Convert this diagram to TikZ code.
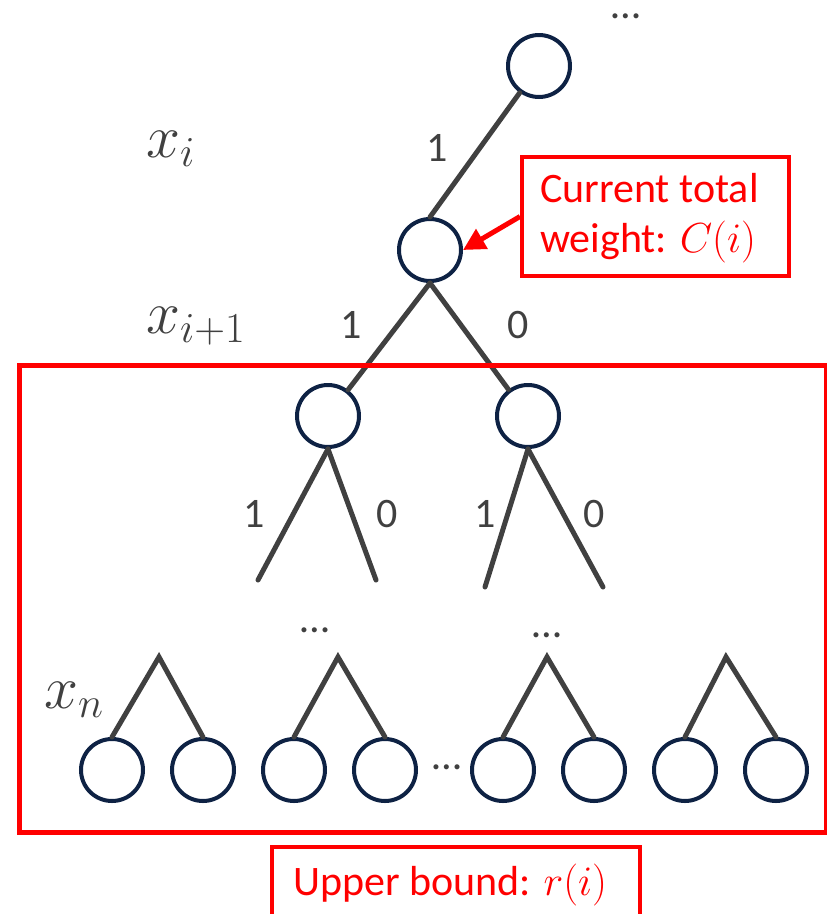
\documentclass[tikz,border=0pt]{standalone}
\usepackage{fix-cm}
\usepackage{fontspec}
\setmainfont{Carlito}
\usetikzlibrary{arrows.meta}
\definecolor{navy}{HTML}{0E2244}
\definecolor{edgegray}{HTML}{404040}
\definecolor{boxred}{HTML}{FF0000}
\begin{document}
\begin{tikzpicture}[x=1pt,y=-1pt,
  vtx/.style={circle,draw=navy,line width=4pt,minimum size=62pt,inner sep=0pt},
  edge/.style={draw=edgegray,line width=5pt,line cap=round},
  lbl/.style={text=edgegray,font=\fontsize{42}{50}\selectfont,inner sep=0pt},
  dots/.style={text=edgegray,font=\fontsize{42}{50}\selectfont,inner sep=0pt,anchor=base},
  redbox/.style={draw=boxred,line width=4pt,rectangle,inner sep=0pt,anchor=north west},
  redtxt/.style={text=boxred,font=\fontsize{42}{50}\selectfont,inner sep=0pt,anchor=base west},
  var/.style={text=edgegray,font=\fontsize{61}{64}\selectfont,inner sep=0pt,anchor=base west}]
\useasboundingbox (0,0) rectangle (827,914);
\clip (0,0) rectangle (827,914);

% vertices
\node[vtx] (r) at (539,66) {};
\node[vtx] (a) at (430,250) {};
\node[vtx] (b1) at (328,416) {};
\node[vtx] (b2) at (528,416) {};
\node[vtx] (l1) at (112,770) {};
\node[vtx] (l2) at (203,770) {};
\node[vtx] (l3) at (294,770) {};
\node[vtx] (l4) at (385,770) {};
\node[vtx] (l5) at (503,770) {};
\node[vtx] (l6) at (594,770) {};
\node[vtx] (l7) at (685,770) {};
\node[vtx] (l8) at (776,770) {};

% free ends and apexes
\coordinate (e1) at (258,580);
\coordinate (e2) at (376,580);
\coordinate (e3) at (485,587);
\coordinate (e4) at (603,587);
\coordinate (p1) at (159,657);
\coordinate (p2) at (338,657);
\coordinate (p3) at (547,657);
\coordinate (p4) at (726,657);

% edges
\draw[edge] (r) -- (a.north);
\draw[edge] (a.south) -- (b1);
\draw[edge] (a.south) -- (b2);
\draw[edge] (b1.south) -- (e1);
\draw[edge] (b1.south) -- (e2);
\draw[edge] (b2.south) -- (e3);
\draw[edge] (b2.south) -- (e4);
\draw[edge] (l1.north) -- (p1) -- (l2.north);
\draw[edge] (l3.north) -- (p2) -- (l4.north);
\draw[edge] (l5.north) -- (p3) -- (l6.north);
\draw[edge] (l7.north) -- (p4) -- (l8.north);

% edge labels
\node[lbl] (t1) at (437,148) {1};
\node[lbl] (t2) at (351,325) {1};
\node[lbl] (t3) at (518,325) {0};
\node[lbl] (t4) at (254,514) {1};
\node[lbl] (t5) at (387,514) {0};
\node[lbl] (t6) at (485,514) {1};
\node[lbl] (t7) at (594,514) {0};

% ellipses
\node[dots] (d0) at (626,18) {\smash{…}};
\node[dots] (d1) at (315,632) {…};
\node[dots] (d2) at (547,637) {…};
\node[dots] (d3) at (447,769) {…};

% variable labels
\node[var] (xi) at (146,157) {$x_i$};
\node[var] (xi1) at (146,333) {$x_{i+1}$};
\node[var] (xn) at (44,708) {$x_n$};

% big red box
\node[redbox,line width=4.5pt,minimum width=807pt,minimum height=467pt] (bb) at (17,363) {};

% current weight box
\node[redbox,minimum width=267pt,minimum height=119pt] (cb) at (520,155) {};
\node[redtxt] (ct1) at (540,202) {Current total};
\node[redtxt] (ct2) at (540,252) {weight: $C(i)$};
\draw[boxred,line width=5pt,-{Triangle[length=22pt,width=22pt]}] (cb.west) -- (a.east);

% upper bound box
\node[redbox,minimum width=368pt,minimum height=100pt] (ub) at (270,845) {};
\node[redtxt] (ubt) at (293,895) {Upper bound: $r(i)$};
\end{tikzpicture}
\end{document}
